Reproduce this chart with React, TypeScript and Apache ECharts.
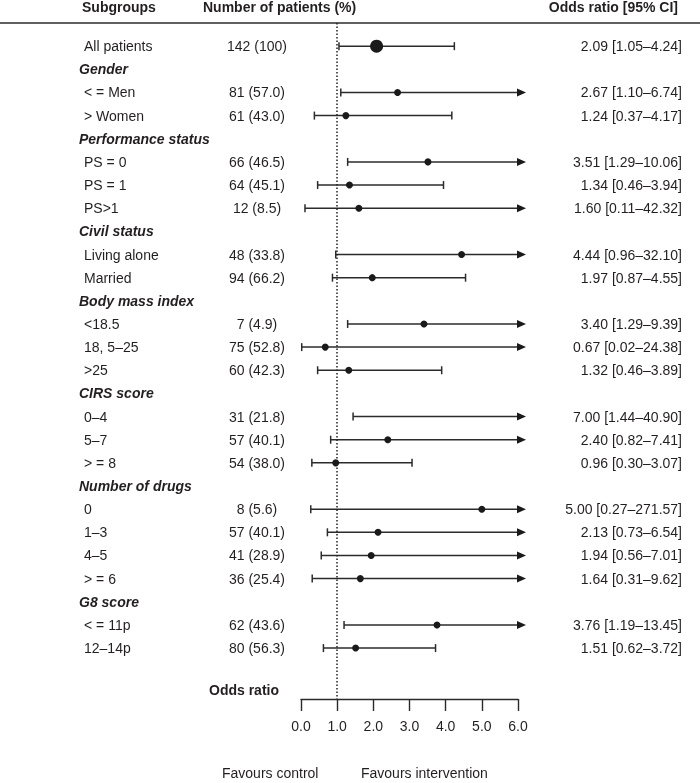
import React, { useEffect, useRef } from "react";
import * as echarts from "echarts";

// ---- Data ----
const rowLabels: string[] = [
  "All patients", "Gender", "< = Men", "> Women", "Performance status", "PS = 0", "PS = 1", "PS>1",
  "Civil status", "Living alone", "Married", "Body mass index", "<18.5", "18, 5–25", ">25",
  "CIRS score", "0–4", "5–7", "> = 8", "Number of drugs", "0", "1–3", "4–5", "> = 6",
  "G8 score", "< = 11p", "12–14p",
];
const patients: string[] = [
  "142 (100)", "", "81 (57.0)", "61 (43.0)", "", "66 (46.5)", "64 (45.1)", "12 (8.5)",
  "", "48 (33.8)", "94 (66.2)", "", "7 (4.9)", "75 (52.8)", "60 (42.3)",
  "", "31 (21.8)", "57 (40.1)", "54 (38.0)", "", "8 (5.6)", "57 (40.1)", "41 (28.9)", "36 (25.4)",
  "", "62 (43.6)", "80 (56.3)",
];
const oddsRatio: (number | null)[] = [
  2.09, null, 2.67, 1.24, null, 3.51, 1.34, 1.60,
  null, 4.44, 1.97, null, 3.40, 0.67, 1.32,
  null, 7.00, 2.40, 0.96, null, 5.00, 2.13, 1.94, 1.64,
  null, 3.76, 1.51,
];
const ciLower: (number | null)[] = [
  1.05, null, 1.10, 0.37, null, 1.29, 0.46, 0.11,
  null, 0.96, 0.87, null, 1.29, 0.02, 0.46,
  null, 1.44, 0.82, 0.30, null, 0.27, 0.73, 0.56, 0.31,
  null, 1.19, 0.62,
];
const ciUpper: (number | null)[] = [
  4.24, null, 6.74, 4.17, null, 10.06, 3.94, 42.32,
  null, 32.10, 4.55, null, 9.39, 24.38, 3.89,
  null, 40.90, 7.41, 3.07, null, 271.57, 6.54, 7.01, 9.62,
  null, 13.45, 3.72,
];
const orText: string[] = [
  "2.09 [1.05–4.24]", "", "2.67 [1.10–6.74]", "1.24 [0.37–4.17]", "", "3.51 [1.29–10.06]", "1.34 [0.46–3.94]", "1.60 [0.11–42.32]",
  "", "4.44 [0.96–32.10]", "1.97 [0.87–4.55]", "", "3.40 [1.29–9.39]", "0.67 [0.02–24.38]", "1.32 [0.46–3.89]",
  "", "7.00 [1.44–40.90]", "2.40 [0.82–7.41]", "0.96 [0.30–3.07]", "", "5.00 [0.27–271.57]", "2.13 [0.73–6.54]", "1.94 [0.56–7.01]", "1.64 [0.31–9.62]",
  "", "3.76 [1.19–13.45]", "1.51 [0.62–3.72]",
];
const xTicks: number[] = [0, 1, 2, 3, 4, 5, 6];
const headers: string[] = ["Subgroups", "Number of patients (%)", "Odds ratio [95% CI]"];
const axisTitle = "Odds ratio";
const favours: string[] = ["Favours control", "Favours intervention"];

const X_MAX = 6;
const FONT = '"Liberation Sans", Arial, Helvetica, sans-serif';
const INK = "#231f20";
const LINE = "#2b2b2b";

export default function App() {
  const ref = useRef<HTMLDivElement>(null);
  useEffect(() => {
    if (!ref.current) return;
    const chart = echarts.init(ref.current, null, { renderer: "svg" });

    const ciData = rowLabels
      .map((_, i) => (ciLower[i] != null ? [i, ciLower[i], ciUpper[i]] : null))
      .filter((d) => d != null);
    const pointData = rowLabels
      .map((_, i) =>
        oddsRatio[i] != null && (oddsRatio[i] as number) <= X_MAX
          ? { value: [oddsRatio[i], i], symbolSize: i === 0 ? 13 : 7 }
          : null
      )
      .filter((d) => d != null);
    const textData = rowLabels.map((_, i) => [0, i]);

    chart.setOption({
      animation: false,
      textStyle: { fontFamily: FONT },
      grid: { left: 301, right: 182, top: 23, bottom: 84 },
      xAxis: {
        type: "value",
        min: 0,
        max: X_MAX,
        interval: 1,
        axisLine: { show: true, onZero: false, lineStyle: { color: LINE, width: 1.4 } },
        axisTick: { show: true, length: 12, lineStyle: { color: LINE, width: 1.4 } },
        axisLabel: {
          fontSize: 14,
          color: INK,
          margin: 20,
          fontFamily: FONT,
          formatter: (v: number) => (xTicks.includes(v) ? v.toFixed(1) : ""),
        },
        splitLine: { show: false },
      },
      yAxis: {
        type: "value",
        inverse: true,
        min: -1,
        max: 28.2,
        show: false,
      },
      graphic: [
        { type: "line", shape: { x1: 0, y1: 23, x2: 700, y2: 23 }, style: { stroke: LINE, lineWidth: 1.5 } },
        { type: "text", left: 82, top: 0, style: { text: headers[0], font: `bold 14px ${FONT}`, fill: INK } },
        { type: "text", left: 203, top: 0, style: { text: headers[1], font: `bold 14px ${FONT}`, fill: INK } },
        { type: "text", right: 22, top: 0, style: { text: headers[2], font: `bold 14px ${FONT}`, fill: INK } },
        { type: "text", left: 209, top: 683, style: { text: axisTitle, font: `bold 14px ${FONT}`, fill: INK } },
        { type: "text", left: 222, top: 766, style: { text: favours[0], font: `14px ${FONT}`, fill: INK } },
        { type: "text", left: 361, top: 766, style: { text: favours[1], font: `14px ${FONT}`, fill: INK } },
      ],
      series: [
        {
          type: "custom",
          name: "ci",
          clip: false,
          data: ciData,
          encode: { x: [1, 2], y: 0 },
          renderItem: (params: any, api: any) => {
            const row = api.value(0);
            const lo = api.value(1);
            const hi = api.value(2);
            const p1 = api.coord([lo, row]);
            const arrow = hi > X_MAX;
            const p2 = api.coord([Math.min(hi, X_MAX), row]);
            const y = p1[1];
            const children: any[] = [
              { type: "line", shape: { x1: p1[0], y1: y, x2: p2[0], y2: y }, style: { stroke: LINE, lineWidth: 1.5 } },
              { type: "line", shape: { x1: p1[0], y1: y - 4, x2: p1[0], y2: y + 4 }, style: { stroke: LINE, lineWidth: 1.5 } },
            ];
            if (arrow) {
              children.push({
                type: "polygon",
                shape: { points: [[p2[0] - 1, y - 4], [p2[0] + 8, y], [p2[0] - 1, y + 4]] },
                style: { fill: "#1a1a1a" },
              });
            } else {
              children.push({ type: "line", shape: { x1: p2[0], y1: y - 4, x2: p2[0], y2: y + 4 }, style: { stroke: LINE, lineWidth: 1.5 } });
            }
            return { type: "group", children };
          },
          markLine: {
            silent: true,
            symbol: "none",
            label: { show: false },
            lineStyle: { type: [1.5, 2], color: "#222", width: 1.5 },
            data: [{ xAxis: 1 }],
          },
        },
        {
          type: "scatter",
          name: "or",
          data: pointData,
          symbol: "circle",
          itemStyle: { color: "#1a1a1a", opacity: 1 },
        },
        {
          type: "custom",
          name: "text",
          clip: false,
          data: textData,
          encode: { x: 0, y: 1 },
          renderItem: (params: any, api: any) => {
            const i = params.dataIndex;
            const y = api.coord([0, api.value(1)])[1];
            const header = patients[i] === "";
            const children: any[] = [
              {
                type: "text",
                x: header ? 79 : 84,
                y,
                style: {
                  text: rowLabels[i],
                  font: header ? `italic bold 14px ${FONT}` : `14px ${FONT}`,
                  fill: INK,
                  verticalAlign: "middle",
                  align: "left",
                },
              },
            ];
            if (!header) {
              children.push({
                type: "text",
                x: 257,
                y,
                style: { text: patients[i], font: `14px ${FONT}`, fill: INK, verticalAlign: "middle", align: "center" },
              });
            }
            if (orText[i]) {
              children.push({
                type: "text",
                x: 682,
                y,
                style: { text: orText[i], font: `14px ${FONT}`, fill: INK, verticalAlign: "middle", align: "right" },
              });
            }
            return { type: "group", children };
          },
        },
      ],
    });
    return () => chart.dispose();
  }, []);
  return <div ref={ref} style={{ position: "fixed", left: 0, top: 0, width: 700, height: 783 }} />;
}
